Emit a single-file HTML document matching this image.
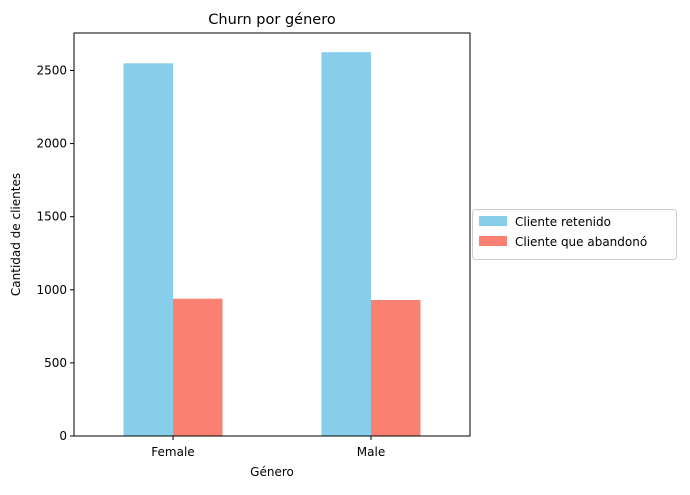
<!DOCTYPE html>
<html><head><meta charset="utf-8"><style>
body{margin:0;background:#fff;font-family:"Liberation Sans","DejaVu Sans",sans-serif}
svg text{font-family:"DejaVu Sans","Liberation Sans",sans-serif}
</style></head><body>
<svg id="c" width="690" height="490"></svg>
<script>
const categories=["Female","Male"];
const retained=[2549,2625];
const churned=[939,930];
const yTicks=[0,500,1000,1500,2000,2500];
const seriesNames=["Cliente retenido","Cliente que abandonó"];
const colors=["#87ceeb","#fa8072"];
const svg=document.getElementById('c');
const NS="http://www.w3.org/2000/svg";
const L=74,R=470,T=33,B=436;
const yMax=Math.max(...retained,...churned)*1.05;
const y=v=>B-(v/yMax)*(B-T);
const step=(R-L)/categories.length;
const xc=i=>L+step*(i+0.5);
const bw=step*0.25;
function mk(t,a,txt){const e=document.createElementNS(NS,t);for(const k in a)e.setAttribute(k,a[k]);if(txt!==undefined)e.textContent=txt;svg.appendChild(e);return e;}
[retained,churned].forEach((s,si)=>s.forEach((v,i)=>{
 const r=mk('rect',{x:xc(i)-bw+si*bw,y:y(v),width:bw,height:B-y(v),fill:colors[si]});
 
 
}));
const frame=mk('rect',{x:L,y:T,width:R-L,height:B-T,fill:'none',stroke:'#000','stroke-width':1});


yTicks.forEach(t=>{
 mk('line',{x1:L-4,x2:L,y1:y(t),y2:y(t),stroke:'#000'});
 const e=mk('text',{x:L-7,y:y(t)+4,'text-anchor':'end','font-size':12},t);
 
 
});
categories.forEach((c,i)=>{
 mk('line',{x1:xc(i),x2:xc(i),y1:B,y2:B+4,stroke:'#000'});
 const e=mk('text',{x:xc(i),y:B+20,'text-anchor':'middle','font-size':12},c);
 
 
});
let e=mk('text',{x:(L+R)/2,y:24,'text-anchor':'middle','font-size':14.5},'Churn por género');

e=mk('text',{x:(L+R)/2,y:476,'text-anchor':'middle','font-size':12},'Género');

e=mk('text',{x:20,y:(T+B)/2,'text-anchor':'middle','font-size':12,transform:`rotate(-90 20 ${(T+B)/2})`},'Cantidad de clientes');

const lg=mk('rect',{x:472.5,y:209.5,width:204,height:50,rx:3,fill:'#fff',stroke:'#ccc'});

seriesNames.forEach((n,i)=>{
 const sw=mk('rect',{x:479,y:216+i*20,width:28,height:10,fill:colors[i]});
 
 const t=mk('text',{x:515,y:226+i*20,'font-size':12},n);
 
});
</script>
</body></html>
